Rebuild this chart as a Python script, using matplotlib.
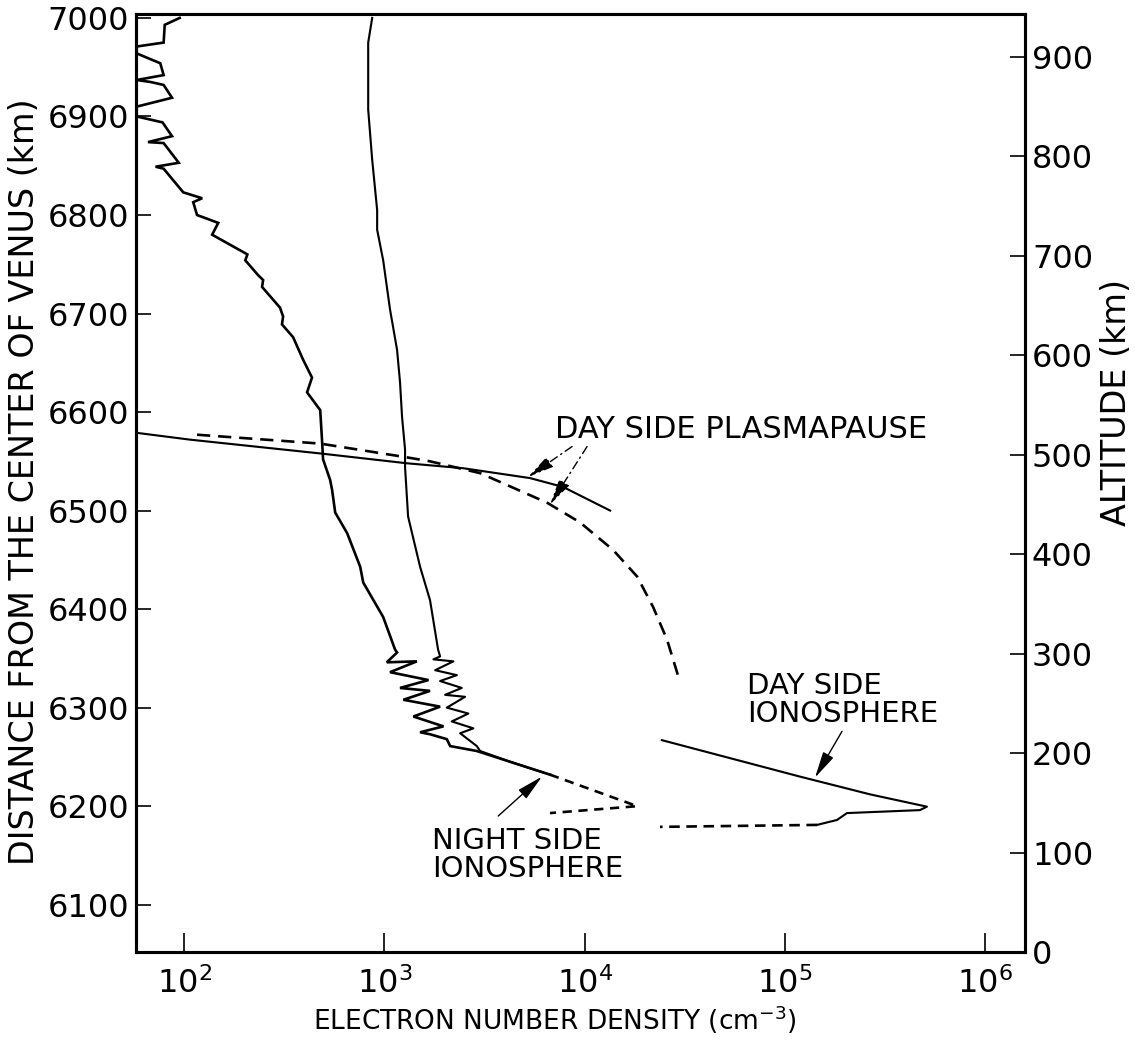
import matplotlib
matplotlib.use('Agg')
import matplotlib.pyplot as plt

# ---- data (density in cm^-3, distance from Venus centre in km) ----
night1_n = [95, 80, 79, 58, 58, 76, 79, 58, 68, 79, 87, 58, 58, 78, 87, 66, 79, 94, 72, 79,
            99, 123, 111, 116, 148, 138, 207, 202, 234, 248, 245, 301, 312, 308, 350, 393, 435, 411, 478, 489,
            494, 536, 548, 568, 652, 757, 784, 986, 1130, 1157, 1028, 1452, 1067, 1660, 1197, 1690, 1244, 1897, 1396, 1972,
            1507, 1690, 2050, 2130, 2893, 4250, 6710]
night1_r = [7000, 6993, 6975, 6971, 6964, 6954, 6942, 6937, 6935, 6932, 6919, 6910, 6900, 6894, 6880, 6874, 6873, 6853, 6849, 6847,
            6823, 6817, 6813, 6800, 6792, 6780, 6760, 6754, 6739, 6734, 6727, 6706, 6697, 6689, 6676, 6653, 6635, 6620, 6602, 6569,
            6552, 6531, 6521, 6498, 6477, 6443, 6427, 6392, 6359, 6356, 6346, 6347, 6336, 6328, 6320, 6317, 6308, 6301, 6291, 6281,
            6275, 6273, 6268, 6261, 6256, 6245, 6232]

night2_n = [869, 830, 830, 869, 920, 920, 986, 1067, 1157, 1197, 1225, 1268, 1268, 1313, 1507, 1690, 1853, 1897,
            1757, 2210, 1792, 2300, 1897, 2434, 2010, 2528, 2050, 2625, 2170, 2780, 2390, 2893, 3005, 4250, 6710]
night2_r = [7000, 6975, 6907, 6856, 6805, 6785, 6754, 6704, 6663, 6630, 6595, 6562, 6544, 6494, 6443, 6409, 6359, 6352,
            6349, 6347, 6338, 6333, 6327, 6320, 6313, 6311, 6300, 6294, 6286, 6279, 6274, 6261, 6256, 6245, 6232]

night_dash_n = [6710, 18290, 6710]
night_dash_r = [6232, 6200, 6193]

pp_solid_n = [57.5, 107, 478, 1297, 2472, 5330, 7800, 13400]
pp_solid_r = [6579, 6572, 6558, 6548, 6543, 6533, 6524, 6500]

pp_dash_n = [116, 478, 1297, 1690, 3005, 6490, 9480, 13870, 18290, 21980, 25780, 29930]
pp_dash_r = [6577, 6568, 6554, 6550, 6538, 6508, 6488, 6460, 6433, 6402, 6369, 6326]

day_solid_n = [24300, 118900, 266000, 511700, 472000, 204000, 182000, 144500]
day_solid_r = [6267, 6230, 6212, 6199.5, 6196, 6193, 6186, 6181]
day_dash_n = [144500, 23770]
day_dash_r = [6181, 6179]

x_ticks = [1e2, 1e3, 1e4, 1e5, 1e6]
x_ticklabels = ['$10^{2}$', '$10^{3}$', '$10^{4}$', '$10^{5}$', '$10^{6}$']
dist_ticks = list(range(6100, 7001, 100))
alt_ticks = list(range(0, 901, 100))

# ---- figure ----
plt.rcParams['font.family'] = ['DejaVu Sans']
fig = plt.figure(figsize=(11.35, 10.52), dpi=100)
W, H = 1135, 1052
ax = fig.add_axes([136 / W, 100 / H, 889 / W, 938 / H])
ax.set_xscale('log')
ax.set_xlim(57.5, 1.58e6)
ax.set_ylim(6052, 7004)

lw = 1.9
ax.plot(night1_n, night1_r, color='k', lw=lw, solid_joinstyle='miter')
ax.plot(night2_n, night2_r, color='k', lw=lw * 0.8)
ax.plot(night_dash_n, night_dash_r, color='k', lw=lw, dashes=(3.5, 2.5))
ax.plot(pp_solid_n, pp_solid_r, color='k', lw=lw * 0.8)
ax.plot(pp_dash_n, pp_dash_r, color='k', lw=lw, dashes=(5, 3))
ax.plot(day_solid_n, day_solid_r, color='k', lw=lw * 0.8)
ax.plot(day_dash_n, day_dash_r, color='k', lw=lw, dashes=(4, 2.5))

ax.set_xticks(x_ticks)
ax.set_xticklabels(x_ticklabels)
ax.minorticks_off()
ax.tick_params(axis='x', direction='in', length=14, width=1.2, pad=11, labelsize=23)
ax.set_yticks(dist_ticks)
ax.set_yticklabels([str(v) for v in dist_ticks])
ax.tick_params(axis='y', direction='in', length=11, width=1.2, pad=5, labelsize=23)
for s in ax.spines.values():
    s.set_linewidth(2.2)

ax2 = ax.twinx()
ax2.set_ylim(0, 943)
ax2.set_yticks(alt_ticks)
ax2.set_yticklabels([str(v) for v in alt_ticks])
ax2.tick_params(axis='y', direction='in', length=11, width=1.2, pad=5, labelsize=23)
for s in ax2.spines.values():
    s.set_linewidth(2.2)

# ---- annotations ----
ax.text(7110, 6582, 'DAY SIDE PLASMAPAUSE', fontsize=22, va='center', ha='left')
arr = dict(arrowstyle='-|>,head_length=0.9,head_width=0.2', color='k', lw=1.0,
           linestyle=(0, (6, 3, 1, 3)), shrinkA=0, shrinkB=0, mutation_scale=18)
ax.annotate('', xy=(5210, 6534), xytext=(8650, 6565), arrowprops=arr)
ax.annotate('', xy=(6710, 6506), xytext=(10280, 6565), arrowprops=arr)

ax.text(64700, 6336, 'DAY SIDE\nIONOSPHERE', fontsize=21, va='top', ha='left', linespacing=1.0)
arr2 = dict(arrowstyle='-|>,head_length=0.9,head_width=0.2', color='k', lw=1.0,
            shrinkA=0, shrinkB=0, mutation_scale=18)
ax.annotate('', xy=(141300, 6229), xytext=(192800, 6276), arrowprops=arr2)

ax.text(1730, 6179, 'NIGHT SIDE\nIONOSPHERE', fontsize=21, va='top', ha='left', linespacing=1.0)
ax.annotate('', xy=(6120, 6230), xytext=(3700, 6190), arrowprops=arr2)

# ---- axis titles ----
fig.text(555 / W, 1 - 1020 / H, 'ELECTRON NUMBER DENSITY (cm$^{-3}$)', fontsize=19,
         ha='center', va='center')
fig.text(25 / W, 1 - 482 / H, 'DISTANCE FROM THE CENTER OF VENUS (km)', fontsize=24,
         ha='center', va='center', rotation=90)
fig.text(1117 / W, 1 - 403 / H, 'ALTITUDE (km)', fontsize=24,
         ha='center', va='center', rotation=90)

fig.savefig('out.png', dpi=100)
